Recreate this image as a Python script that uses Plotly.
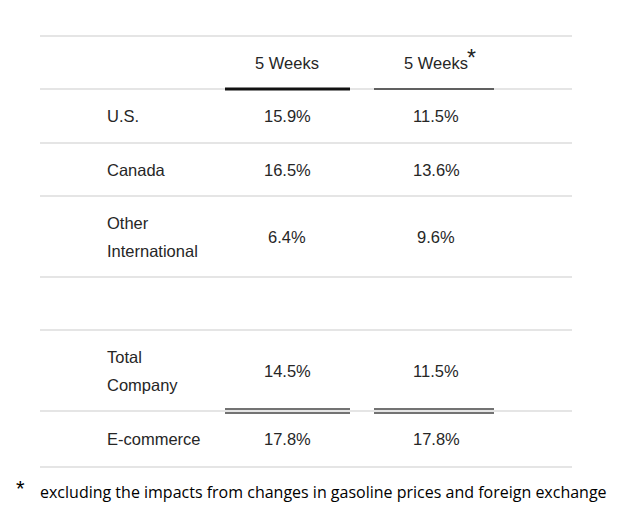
import plotly.graph_objects as go

# ---- data ----
col_headers = ["5 Weeks", "5 Weeks"]
row_labels = ["U.S.", "Canada", "Other\nInternational", "", "Total\nCompany", "E-commerce"]
col1_values = ["15.9%", "16.5%", "6.4%", "", "14.5%", "17.8%"]
col2_values = ["11.5%", "13.6%", "9.6%", "", "11.5%", "17.8%"]
footnote = "excluding the impacts from changes in gasoline prices and foreign exchange"

# ---- layout geometry (pixel space of a 640x520 canvas) ----
row_lines = [36, 89, 143, 196, 277, 330, 411, 467]  # horizontal rule positions
x_left, x_right = 40, 572
label_x = 105
col_centers = [287, 436]
col_spans = [(225, 350), (374, 494)]
line_gap = 28
font_table = dict(family="Liberation Sans, Arial", size=16.5, color="#262626")
OFF = 8  # page body offset

fig = go.Figure()
shapes = []
annotations = []

for y in row_lines:
    shapes.append(dict(type="line", x0=x_left, x1=x_right, y0=y, y1=y,
                       line=dict(color="#dcdcdc", width=1.3)))

# header
hy = (row_lines[0] + row_lines[1]) / 2
for i, h in enumerate(col_headers):
    annotations.append(dict(x=col_centers[i], y=hy, text=h, showarrow=False,
                            font=font_table, xanchor="center", yanchor="middle"))
annotations.append(dict(x=col_centers[1] + 29, y=hy - 5, text="*", showarrow=False,
                        font=dict(family="Liberation Sans, Arial", size=23, color="#222222"),
                        xanchor="left", yanchor="middle"))
# header underlines
shapes.append(dict(type="line", x0=col_spans[0][0], x1=col_spans[0][1], y0=89, y1=89,
                   line=dict(color="#111111", width=3)))
shapes.append(dict(type="line", x0=col_spans[1][0], x1=col_spans[1][1], y0=89, y1=89,
                   line=dict(color="#333333", width=1.5)))

# body rows
for r in range(len(row_labels)):
    top, bot = row_lines[r + 1], row_lines[r + 2]
    cy = (top + bot) / 2
    parts = row_labels[r].split("\n") if row_labels[r] else []
    n = len(parts)
    for k, p in enumerate(parts):
        yy = cy + (k - (n - 1) / 2) * line_gap
        annotations.append(dict(x=label_x, y=yy, text=p, showarrow=False, font=font_table,
                                xanchor="left", yanchor="middle"))
    for ci, vals in enumerate([col1_values, col2_values]):
        if vals[r]:
            annotations.append(dict(x=col_centers[ci], y=cy, text=vals[r], showarrow=False,
                                    font=font_table, xanchor="center", yanchor="middle"))

# double rules above E-commerce
for (a, b) in col_spans:
    for yy in (409, 413):
        shapes.append(dict(type="line", x0=a, x1=b, y0=yy, y1=yy,
                           line=dict(color="#444444", width=1.5)))

# footnote
annotations.append(dict(x=14, y=488, text="*", showarrow=False,
                        font=dict(family="Liberation Sans, Arial", size=22, color="#000000"),
                        xanchor="left", yanchor="middle"))
annotations.append(dict(x=38, y=492, text=footnote, showarrow=False,
                        font=dict(family="Open Sans", size=16, color="#000000"),
                        xanchor="left", yanchor="middle"))

fig.update_layout(
    width=640, height=520,
    margin=dict(l=0, r=0, t=0, b=0),
    paper_bgcolor="white", plot_bgcolor="white",
    xaxis=dict(range=[OFF, 640 + OFF], visible=False, fixedrange=True),
    yaxis=dict(range=[520 + OFF, OFF], visible=False, fixedrange=True),
    shapes=shapes, annotations=annotations, showlegend=False,
)
fig.write_html("out.html")
